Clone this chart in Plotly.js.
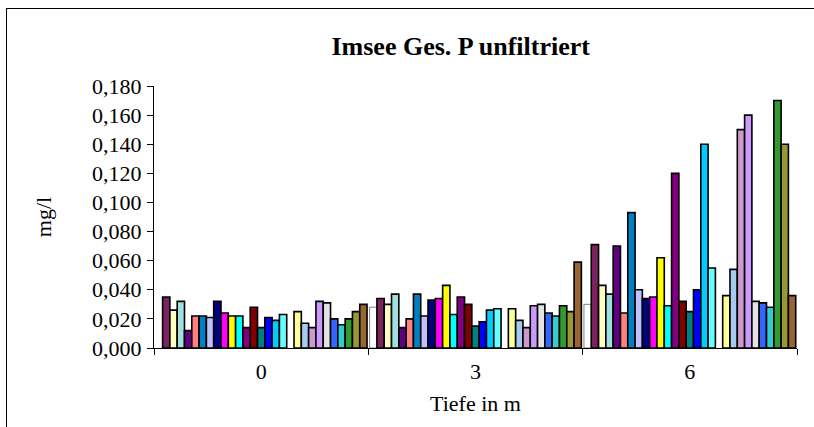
<!DOCTYPE html>
<html>
<head>
<meta charset="utf-8">
<script src="https://cdn.plot.ly/plotly-3.0.1.min.js"></script>
<style>
  html, body { margin: 0; padding: 0; background: #fff; }
  #frame { position: absolute; left: 6px; top: 8px; width: 808px; height: 419px; border-left: 1px solid #000; border-top: 1px solid #000; box-sizing: border-box; }
  #chart { position: absolute; left: 0; top: 0; width: 814px; height: 427px; }
</style>
</head>
<body>
<div id="chart"></div>
<div id="frame"></div>
<script>
// Tiefe (categories)
const depths = ['0', '3', '6'];

// Series values (mg/l) at depths 0, 3, 6
const s01 = [null, 0.028, 0.030];
const s02 = [0.035, 0.034, 0.071];
const s03 = [0.026, 0.030, 0.043];
const s04 = [0.032, 0.037, 0.037];
const s05 = [0.012, 0.014, 0.070];
const s06 = [0.022, 0.020, 0.024];
const s07 = [0.022, 0.037, 0.093];
const s08 = [0.021, 0.022, 0.040];
const s09 = [0.032, 0.033, 0.034];
const s10 = [0.024, 0.034, 0.035];
const s11 = [0.022, 0.043, 0.062];
const s12 = [0.022, 0.023, 0.029];
const s13 = [0.014, 0.035, 0.120];
const s14 = [0.028, 0.030, 0.032];
const s15 = [0.014, 0.015, 0.025];
const s16 = [0.021, 0.018, 0.040];
const s17 = [0.019, 0.026, 0.140];
const s18 = [0.023, 0.027, 0.055];
const s19 = [null, null, null];
const s20 = [0.025, 0.027, 0.036];
const s21 = [0.017, 0.019, 0.054];
const s22 = [0.014, 0.014, 0.150];
const s23 = [0.032, 0.029, 0.160];
const s24 = [0.031, 0.030, 0.032];
const s25 = [0.020, 0.024, 0.031];
const s26 = [0.016, 0.022, 0.028];
const s27 = [0.020, 0.029, 0.170];
const s28 = [0.025, 0.025, 0.140];
const s29 = [0.030, 0.059, 0.036];

const seriesValues = [s01, s02, s03, s04, s05, s06, s07, s08, s09, s10,
  s11, s12, s13, s14, s15, s16, s17, s18, s19, s20,
  s21, s22, s23, s24, s25, s26, s27, s28, s29];

const seriesColors = ['#FFFFFF', '#7D2260', '#FFFFC0', '#A0E0E0', '#600080',
  '#FF8080', '#0080C0', '#C0C0FF', '#000080', '#FF00FF',
  '#FFFF00', '#00FFFF', '#800080', '#800000', '#008080',
  '#0000FF', '#00CCFF', '#66FFFF', '#CCFFCC', '#FFFF99',
  '#A6CAF0', '#CC99CC', '#CC99FF', '#E3E3E3', '#3366FF',
  '#33CCCC', '#339933', '#999933', '#996633'];

const traces = seriesValues.map((vals, i) => ({
  type: 'bar',
  name: 'Serie ' + (i + 1),
  x: depths,
  y: vals,
  marker: {
    color: seriesColors[i],
    line: i === 0 ? { color: '#808080', width: 1 } : { color: '#000000', width: 1.6 }
  },
  hoverinfo: 'name+y'
}));

const font = 'Liberation Serif, Times New Roman, serif';

const layout = {
  width: 814,
  height: 427,
  paper_bgcolor: '#FFFFFF',
  plot_bgcolor: '#FFFFFF',
  showlegend: false,
  barmode: 'group',
  bargap: 0.012,
  bargroupgap: 0,
  separators: ',.',
  margin: { l: 154, r: 17, t: 86, b: 79 },
  font: { family: font, color: '#000000', size: 22 },
  title: {
    text: '<b>Imsee Ges. P unfiltriert</b>',
    font: { family: font, size: 26, color: '#000000' },
    xref: 'container', yref: 'container',
    x: 0.566, xanchor: 'center',
    y: 0.892, yanchor: 'middle'
  },
  xaxis: {
    type: 'category',
    showline: true, linecolor: '#000000', linewidth: 1,
    ticks: 'outside', ticklen: 6, tickcolor: '#000000', tickwidth: 1,
    tickson: 'boundaries',
    showgrid: false, zeroline: false,
    tickfont: { family: font, size: 22 },
    ticklabelstandoff: 4,
    title: { text: 'Tiefe in m', font: { family: font, size: 22 }, standoff: 12 }
  },
  yaxis: {
    range: [0, 0.18],
    dtick: 0.02, tick0: 0,
    tickformat: '.3f',
    showline: true, linecolor: '#000000', linewidth: 1,
    ticks: 'outside', ticklen: 6, tickcolor: '#000000', tickwidth: 1,
    showgrid: false, zeroline: false,
    tickfont: { family: font, size: 22 },
    ticklabelstandoff: 1,
    title: { text: 'mg/l', font: { family: font, size: 22 }, standoff: 34 }
  }
};

Plotly.newPlot('chart', traces, layout, { staticPlot: true, displayModeBar: false });
</script>
</body>
</html>
